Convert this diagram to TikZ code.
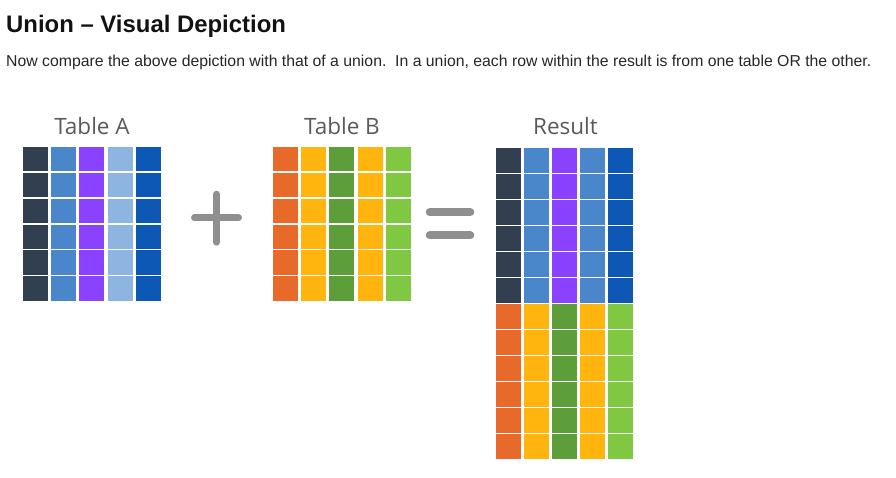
\documentclass[tikz,border=0pt]{standalone}
\usepackage{fontspec}
\setmainfont{Liberation Sans}
\newfontfamily\labelfont{Open Sans}
\usepackage{amsmath}

\definecolor{tabslate}{RGB}{50,63,80}
\definecolor{tabsteel}{RGB}{74,134,202}
\definecolor{tabviolet}{RGB}{138,66,255}
\definecolor{tabsky}{RGB}{142,180,226}
\definecolor{tabcobalt}{RGB}{12,88,180}
\definecolor{taborange}{RGB}{232,106,42}
\definecolor{tabamber}{RGB}{255,180,14}
\definecolor{tabgreen}{RGB}{94,158,58}
\definecolor{tablime}{RGB}{128,200,66}
\definecolor{signgray}{RGB}{143,143,143}
\definecolor{labelgray}{RGB}{90,90,90}

\tikzset{
  cell/.style={rectangle,draw=none,inner sep=0pt,minimum width=25pt,minimum height=24.3pt},
  tablabel/.style={font=\labelfont\fontsize{22.5}{26}\selectfont,text=labelgray,inner sep=0pt},
  sign/.style={draw=signgray,line cap=round}
}

\begin{document}
\begin{tikzpicture}[x=1pt,y=-1pt]

      \useasboundingbox (0,0) rectangle (896,478);

      \node[anchor=base west,inner sep=0pt,font=\bfseries\fontsize{23.9}{28}\selectfont,text=black!93] (title) at (6,32.3) {Union -- Visual Depiction};
      \node[anchor=base west,inner sep=0pt,font=\fontsize{15.8}{18}\selectfont,text=black!85] (intro) at (6,66.2)
        {Now compare the above depiction with that of a union.\ \ In a union, each row within the result is from one table OR the other.};

      \begin{scope}[every node/.style={tablabel}]
        \node (labA) at (92,126) {Table A};
        \node (labB) at (342,126) {Table B};
        \node (labR) at (565.5,126) {Result};
      \end{scope}

      \begin{scope}[every node/.style={cell}]

        % table A
        \foreach \c/\col in {1/tabslate,2/tabsteel,3/tabviolet,4/tabsky,5/tabcobalt}
          \foreach \r in {1,...,6}
            \node[fill=\col] (a-\r-\c) at ({35.2+(\c-1)*28.3},{159+(\r-1)*25.9}) {};

        % table B
        \foreach \c/\col in {1/taborange,2/tabamber,3/tabgreen,4/tabamber,5/tablime}
          \foreach \r in {1,...,6}
            \node[fill=\col] (b-\r-\c) at ({285.2+(\c-1)*28.3},{159+(\r-1)*25.9}) {};

        % result, rows of A then rows of B
        \foreach \c/\col in {1/tabslate,2/tabsteel,3/tabviolet,4/tabsteel,5/tabcobalt}
          \foreach \r in {1,...,6}
            \node[fill=\col] (r-\r-\c) at ({508.4+(\c-1)*28.1},{160.6+(\r-1)*26}) {};
        \foreach \c/\col in {1/taborange,2/tabamber,3/tabgreen,4/tabamber,5/tablime}
          \foreach \r in {7,...,12}
            \node[fill=\col] (r-\r-\c) at ({508.4+(\c-1)*28.1},{160.6+(\r-1)*26}) {};

      \end{scope}

      % plus and equals
      \draw[sign,line width=7pt] (194.5,218) -- (238.5,218);
      \draw[sign,line width=7pt] (216.5,194.2) -- (216.5,242.2);
      \draw[sign,line width=8pt] (429.7,212.3) -- (470.3,212.3);
      \draw[sign,line width=8pt] (429.7,235.5) -- (470.3,235.5);

    \end{tikzpicture}
\end{document}
